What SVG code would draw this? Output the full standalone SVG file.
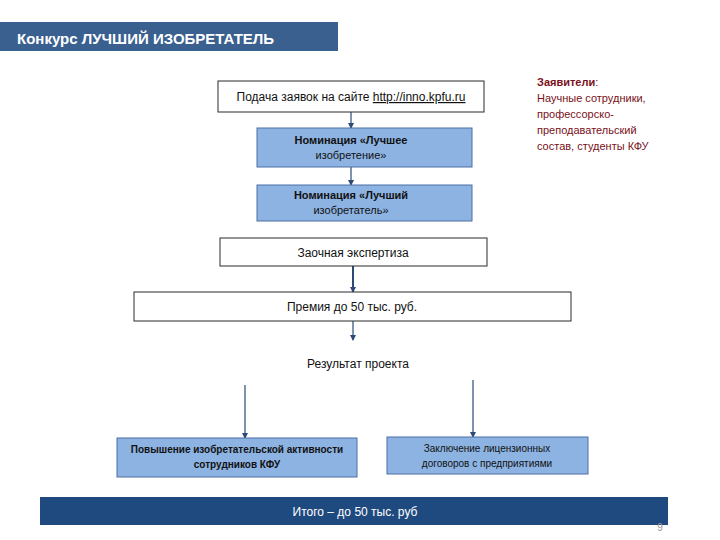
<svg xmlns="http://www.w3.org/2000/svg" width="720" height="540" viewBox="0 0 720 540">
<defs>
<marker id="ah" markerWidth="6" markerHeight="6" refX="5" refY="3" orient="auto" markerUnits="userSpaceOnUse">
<path d="M0,0 L6,3 L0,6 Z" fill="#2b4a78"/>
</marker>
<style>
.t{font-family:"Liberation Sans",Arial,sans-serif;fill:#111}
.wb{fill:#ffffff;stroke:#2a2a2a;stroke-width:1}
.bb{fill:#8db3e2;stroke:#4a6fa3;stroke-width:1}
.c{fill:none;stroke:#2b4a78;stroke-width:1.2}
.red{font-family:"Liberation Sans",Arial,sans-serif;fill:#7a1020;font-size:11px}
</style>
</defs>
<rect width="720" height="540" fill="#ffffff"/>
<g id="title">
<rect x="0" y="22" width="338" height="29" fill="#3a6090"/>
<text x="17" y="44" class="t" style="fill:#ffffff;font-size:15px;font-weight:bold">Конкурс ЛУЧШИЙ ИЗОБРЕТАТЕЛЬ</text>
</g>
<g id="connectors">
<line x1="351" y1="112" x2="351" y2="128" class="c" marker-end="url(#ah)"/>
<line x1="351" y1="167" x2="351" y2="185" class="c" marker-end="url(#ah)"/>
<line x1="353" y1="266" x2="353" y2="292" class="c" style="stroke-width:2" marker-end="url(#ah)"/>
<line x1="353" y1="321" x2="353" y2="340" class="c" marker-end="url(#ah)"/>
<line x1="245" y1="385" x2="245" y2="438" class="c" marker-end="url(#ah)"/>
<line x1="473" y1="380" x2="473" y2="437" class="c" marker-end="url(#ah)"/>
</g>
<g id="n1">
<rect x="218" y="81" width="266" height="31" class="wb"/>
<text x="351" y="101" class="t" style="font-size:12px" text-anchor="middle">Подача заявок  на сайте <tspan text-decoration="underline">http://inno.kpfu.ru</tspan></text>
</g>
<g id="n2">
<rect x="257" y="128" width="215" height="39" class="bb"/>
<text x="351" y="144" class="t" style="font-size:11px" text-anchor="middle"><tspan font-weight="bold">Номинация «Лучшее</tspan><tspan x="351" dy="15">изобретение»</tspan></text>
</g>
<g id="n3">
<rect x="257" y="185" width="215" height="36" class="bb"/>
<text x="351" y="199" class="t" style="font-size:11px" text-anchor="middle"><tspan font-weight="bold">Номинация «Лучший</tspan><tspan x="351" dy="15">изобретатель»</tspan></text>
</g>
<g id="applicants">
<text x="537" y="86" class="red"><tspan font-weight="bold">Заявители</tspan>:<tspan x="537" dy="16">Научные сотрудники,</tspan><tspan x="537" dy="16">профессорско-</tspan><tspan x="537" dy="16">преподавательский</tspan><tspan x="537" dy="16">состав, студенты КФУ</tspan></text>
</g>
<g id="n4">
<rect x="220" y="238" width="267" height="28" class="wb"/>
<text x="353" y="257" class="t" style="font-size:12px" text-anchor="middle">Заочная экспертиза</text>
</g>
<g id="n5">
<rect x="134" y="292" width="437" height="29" class="wb"/>
<text x="352" y="311" class="t" style="font-size:12px" text-anchor="middle">Премия до 50 тыс. руб.</text>
</g>
<g id="n6">
<text x="358" y="368" class="t" style="font-size:12px" text-anchor="middle">Результат проекта</text>
</g>
<g id="n7">
<rect x="117" y="438" width="240" height="39" class="bb"/>
<text x="237" y="453" class="t" style="font-size:10px;font-weight:bold" text-anchor="middle">Повышение изобретательской активности<tspan x="237" dy="15">сотрудников КФУ</tspan></text>
</g>
<g id="n8">
<rect x="387" y="437" width="201" height="37" class="bb"/>
<text x="487" y="452" class="t" style="font-size:10px" text-anchor="middle">Заключение лицензионных<tspan x="487" dy="15">договоров с предприятиями</tspan></text>
</g>
<g id="total">
<rect x="40" y="497" width="628" height="28" fill="#1f4a80"/>
<text x="355" y="516" class="t" style="fill:#ffffff;font-size:12px" text-anchor="middle">Итого – до 50 тыс. руб</text>
</g>
<text x="660" y="531" class="t" style="fill:#999999;font-size:10px" text-anchor="middle">9</text>
</svg>
